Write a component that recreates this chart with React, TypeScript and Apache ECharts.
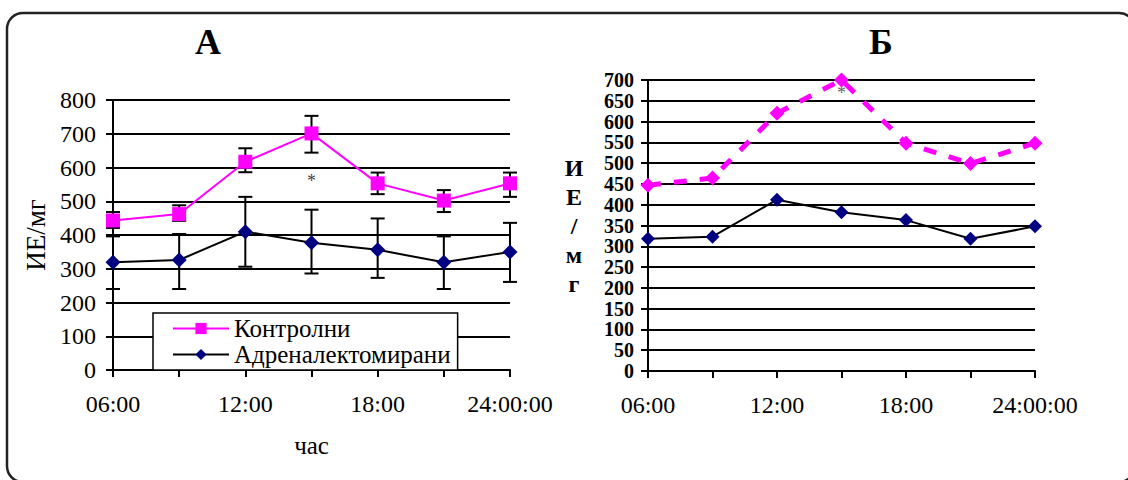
import React, { useEffect, useRef } from "react";
import * as echarts from "echarts";

const hours = ["06:00", "09:00", "12:00", "15:00", "18:00", "21:00", "24:00:00"];

// Panel А
const controlA = [443, 462, 617, 701, 553, 502, 553];
const controlLowA = [421, 442, 586, 644, 521, 468, 513];
const controlHighA = [468, 488, 657, 753, 585, 533, 585];
const adrenalA = [319, 326, 410, 377, 356, 319, 350];
const adrenalLowA = [240, 240, 306, 286, 273, 240, 261];
const adrenalHighA = [396, 403, 513, 475, 449, 396, 436];
const starA: [number, number] = [3, 560];

// Panel Б
const controlB = [447, 464, 620, 700, 548, 499, 548];
const adrenalB = [318, 323, 412, 382, 363, 318, 348];
const starB: [number, number] = [3, 669];

const seriesNames = ["Контролни", "Адреналектомирани"];
const titles = ["А", "Б"];
const yNameA = "ИЕ/мг";
const yNameB = ["И", "Е", "/", "м", "г"];
const xNameA = "час";

const FONT = "'Liberation Serif', 'Times New Roman', serif";
const MAGENTA = "#FF00FF";
const NAVY = "#000080";

function errorRender(params: any, api: any) {
  const x = api.value(0);
  const lo = api.coord([x, api.value(1)]);
  const hi = api.coord([x, api.value(2)]);
  const w = 7;
  const st = { stroke: "#000", lineWidth: 2 };
  return {
    type: "group",
    children: [
      { type: "line", shape: { x1: lo[0], y1: lo[1], x2: hi[0], y2: hi[1] }, style: st },
      { type: "line", shape: { x1: lo[0] - w, y1: lo[1], x2: lo[0] + w, y2: lo[1] }, style: st },
      { type: "line", shape: { x1: hi[0] - w, y1: hi[1], x2: hi[0] + w, y2: hi[1] }, style: st },
    ],
  };
}

export default function App() {
  const ref = useRef<HTMLDivElement>(null);
  useEffect(() => {
    if (!ref.current) return;
    const chart = echarts.init(ref.current, null, { renderer: "svg" });
    const axisLine = { show: true, lineStyle: { color: "#000", width: 2 } };
    const axisTick = { show: true, length: 7, lineStyle: { color: "#000", width: 2 } };
    const split = { show: true, lineStyle: { color: "#000", width: 2 } };
    const xAxisBase = {
      type: "category",
      data: hours,
      boundaryGap: false,
      axisLine,
      axisTick: { ...axisTick, interval: 0 },
      splitLine: { show: false },
      axisLabel: {
        interval: 1,
        margin: 22,
        color: "#000",
        fontFamily: FONT,
        fontSize: 24,
      },
    };
    const option: any = {
      animation: false,
      backgroundColor: "#fff",
      grid: [
        { left: 113, top: 100, width: 397, height: 270 },
        { left: 648, top: 80, width: 387, height: 291 },
      ],
      xAxis: [
        {
          ...xAxisBase,
          gridIndex: 0,
          name: xNameA,
          nameLocation: "middle",
          nameGap: 63,
          nameTextStyle: { color: "#000", fontFamily: FONT, fontSize: 25 },
        },
        { ...xAxisBase, gridIndex: 1 },
      ],
      yAxis: [
        {
          type: "value",
          gridIndex: 0,
          min: 0,
          max: 800,
          interval: 100,
          axisLine,
          axisTick,
          splitLine: split,
          axisLabel: { margin: 17, color: "#000", fontFamily: FONT, fontSize: 24 },
          name: yNameA,
          nameLocation: "middle",
          nameGap: 64,
          nameRotate: 90,
          nameTextStyle: { color: "#000", fontFamily: FONT, fontSize: 27 },
        },
        {
          type: "value",
          gridIndex: 1,
          min: 0,
          max: 700,
          interval: 50,
          axisLine,
          axisTick,
          splitLine: split,
          axisLabel: {
            margin: 14,
            color: "#000",
            fontFamily: FONT,
            fontSize: 20,
            lineHeight: 20,
            fontWeight: "bold",
          },
          name: yNameB.join("\n"),
          nameLocation: "middle",
          nameGap: 74,
          nameRotate: 0,
          nameTextStyle: {
            color: "#000",
            fontFamily: FONT,
            fontSize: 24,
            fontWeight: "bold",
            align: "center",
            verticalAlign: "middle",
            lineHeight: 29,
          },
        },
      ],
      legend: {
        data: seriesNames,
        selectedMode: false,
        orient: "vertical",
        left: 153,
        top: 313,
        itemWidth: 56,
        itemHeight: 14,
        itemGap: 1,
        padding: [3, 7, 3, 19],
        backgroundColor: "#fff",
        borderColor: "#000",
        borderWidth: 1.5,
        textStyle: { color: "#000", fontFamily: FONT, fontSize: 25, lineHeight: 22 },
        z: 10,
      },
      graphic: [
        {
          type: "rect",
          z: -10,
          shape: { x: 7, y: 13, width: 1128, height: 469, r: 16 },
          style: { fill: "none", stroke: "#222", lineWidth: 2.5 },
        },
        {
          type: "text",
          x: 208,
          y: 42,
          style: {
            text: titles[0],
            font: `bold 36px ${FONT}`,
            fill: "#000",
            align: "center",
            verticalAlign: "middle",
          },
        },
        {
          type: "text",
          x: 881,
          y: 42,
          style: {
            text: titles[1],
            font: `bold 36px ${FONT}`,
            fill: "#000",
            align: "center",
            verticalAlign: "middle",
          },
        },
      ],
      series: [
        {
          type: "custom",
          name: "errA1",
          xAxisIndex: 0,
          yAxisIndex: 0,
          renderItem: errorRender,
          data: controlA.map((_, i) => [i, controlLowA[i], controlHighA[i]]),
          z: 1,
        },
        {
          type: "custom",
          name: "errA2",
          xAxisIndex: 0,
          yAxisIndex: 0,
          renderItem: errorRender,
          data: adrenalA.map((_, i) => [i, adrenalLowA[i], adrenalHighA[i]]),
          z: 1,
        },
        {
          type: "line",
          name: seriesNames[0],
          xAxisIndex: 0,
          yAxisIndex: 0,
          data: controlA,
          symbol: "rect",
          symbolSize: 14,
          lineStyle: { color: MAGENTA, width: 2 },
          itemStyle: { color: MAGENTA },
          z: 3,
        },
        {
          type: "line",
          name: seriesNames[1],
          xAxisIndex: 0,
          yAxisIndex: 0,
          data: adrenalA,
          symbol: "diamond",
          symbolSize: 15,
          lineStyle: { color: "#000", width: 2 },
          itemStyle: { color: NAVY },
          z: 3,
        },
        {
          type: "scatter",
          name: "starA",
          xAxisIndex: 0,
          yAxisIndex: 0,
          data: [starA],
          symbolSize: 0,
          label: {
            show: true,
            position: "inside",
            formatter: "*",
            color: "#000",
            fontFamily: FONT,
            fontSize: 18,
          },
        },
        {
          type: "line",
          name: seriesNames[0] + " Б",
          xAxisIndex: 1,
          yAxisIndex: 1,
          data: controlB,
          symbol: "diamond",
          symbolSize: 15,
          lineStyle: { color: MAGENTA, width: 5, type: [13, 13] },
          itemStyle: { color: MAGENTA },
          z: 3,
        },
        {
          type: "line",
          name: seriesNames[1] + " Б",
          xAxisIndex: 1,
          yAxisIndex: 1,
          data: adrenalB,
          symbol: "diamond",
          symbolSize: 14,
          lineStyle: { color: "#000", width: 2 },
          itemStyle: { color: NAVY },
          z: 3,
        },
        {
          type: "scatter",
          name: "starB",
          xAxisIndex: 1,
          yAxisIndex: 1,
          data: [starB],
          symbolSize: 0,
          label: {
            show: true,
            position: "inside",
            formatter: "*",
            color: "#333",
            fontFamily: FONT,
            fontSize: 18,
          },
        },
      ],
    };
    chart.setOption(option);
    return () => chart.dispose();
  }, []);
  return (
    <div
      ref={ref}
      style={{ position: "fixed", left: 0, top: 0, width: 1128, height: 480 }}
    />
  );
}
